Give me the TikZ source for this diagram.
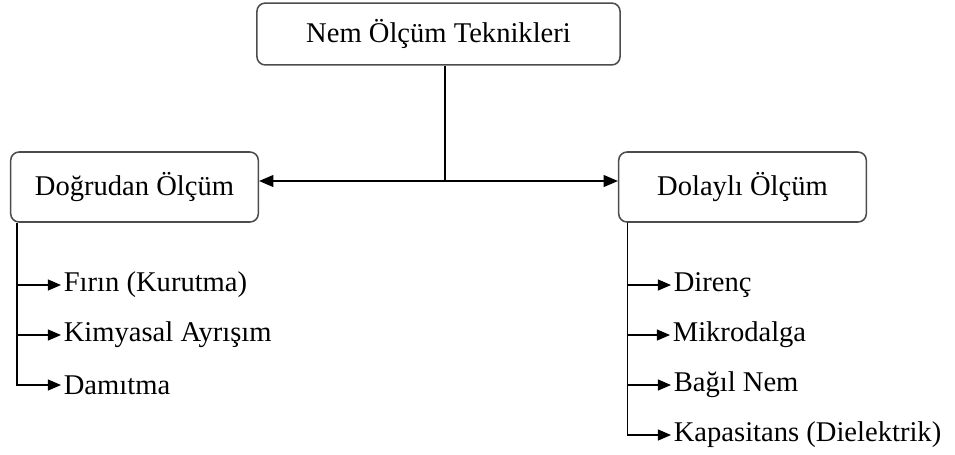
\documentclass[tikz,border=0pt]{standalone}
\usepackage{fontspec}
\setmainfont{Liberation Serif}
\usepackage{tikz}
\usetikzlibrary{arrows.meta,positioning,calc}

\begin{document}
\begin{tikzpicture}[
        x=0.42pt, y=-0.42pt,
        font=\fontsize{12}{14}\selectfont,
        box/.style={rectangle, rounded corners=3.5pt, draw=black!70, line width=0.65pt, align=center},
        topbox/.style={box, minimum width=152.5pt, minimum height=26pt},
        sidebox/.style={box, minimum width=104pt, minimum height=29.4pt},
        item/.style={anchor=west, inner sep=1pt},
        arrow/.style={-{Triangle[length=5.5pt,width=4.6pt]}, line width=0.55pt},
        mainarrow/.style={-{Triangle[length=6pt,width=5pt]}, line width=0.55pt}
    ]
        \useasboundingbox (0,0) rectangle (955,454);

        % Blocks
        \node[topbox] (top) at (438.5,34) {Nem Ölçüm Teknikleri};
        \node[sidebox] (direct) at (134.5,187) {Doğrudan Ölçüm};
        \node[sidebox] (indirect) at (742.5,187) {Dolaylı Ölçüm};

        % Split
        \coordinate (hub) at (445,181);
        \draw[line width=0.55pt] (top.south -| hub) -- (hub);
        \draw[mainarrow] (hub) -- (hub -| direct.east);
        \draw[mainarrow] (hub) -- (hub -| indirect.west);

        % Direct methods
        \node[item] (firin) at (61,285) {Fırın (Kurutma)};
        \node[item] (kimya) at (61,335) {Kimyasal Ayrışım};
        \node[item] (damit) at (61,385) {Damıtma};
        \foreach \n in {firin,kimya,damit}
            \draw[arrow] ($(direct.south west)+(7,0)$) |- (\n.west);

        % Indirect methods
        \node[item] (direnc) at (671,285) {Direnç};
        \node[item] (mikro) at (670,335) {Mikrodalga};
        \node[item] (bagil) at (671,385) {Bağıl Nem};
        \node[item] (kapas) at (671,435) {Kapasitans (Dielektrik)};
        \foreach \n in {direnc,mikro,bagil,kapas}
            \draw[arrow] ($(indirect.south west)+(9.5,0)$) |- (\n.west);
    \end{tikzpicture}
\end{document}
